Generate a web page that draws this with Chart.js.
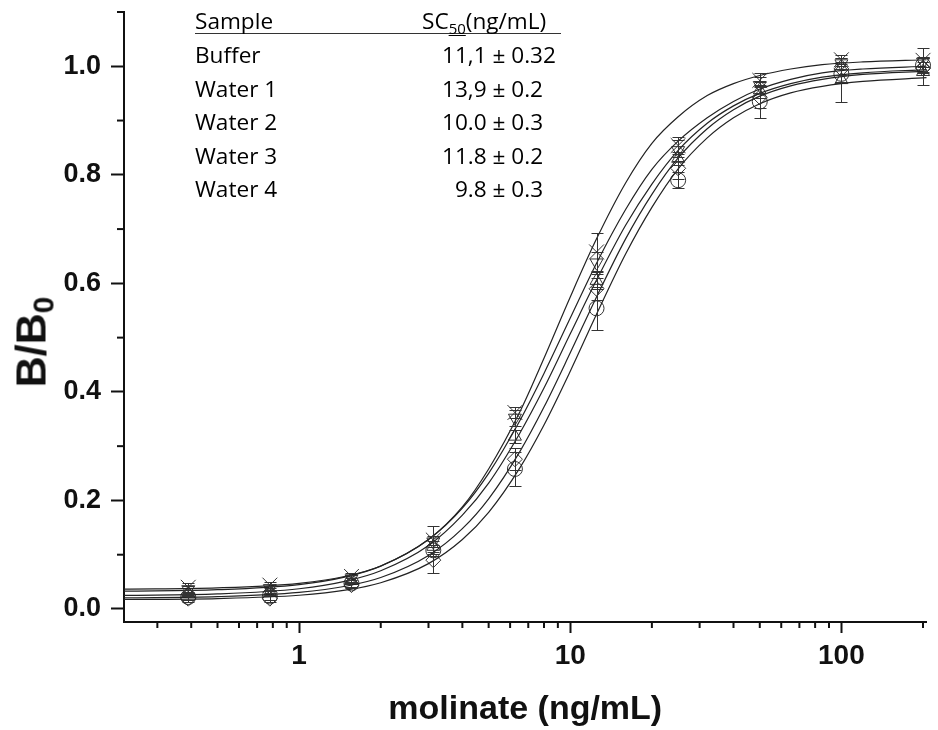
<!DOCTYPE html>
<html>
<head>
<meta charset="utf-8">
<title>molinate</title>
<script src="https://cdn.jsdelivr.net/npm/chart.js@4.4.1/dist/chart.umd.min.js"></script>
<style>
body { margin: 0; background: #fff; }
#wrap { position: relative; width: 938px; height: 730px; }
.t { position: absolute; font-family: "Open Sans", Lato, sans-serif; font-size: 22.6px; line-height: 22px; color: #000; white-space: nowrap; }
#hline { position: absolute; left: 195px; top: 33px; width: 366px; height: 1px; background: #333; }
#ytitle { position: absolute; left: 34px; top: 342px; font-family: "Liberation Sans", Arial, sans-serif; font-weight: bold; font-size: 43px; line-height: 1; color: #111; white-space: nowrap; transform: translate(-50%, -50%) rotate(-90deg); }
#ytitle sub { font-size: 30px; vertical-align: -8px; }
</style>
</head>
<body>
<div id="wrap">
  <canvas id="myChart" width="938" height="730"></canvas>
  <div id="ytitle">B/B<sub>0</sub></div>
  <div id="hline"></div>
</div>
<script>
// concentrations (ng/mL)
var xConc = [0.39, 0.78, 1.56, 3.125, 6.25, 12.5, 25, 50, 100, 200];

var bufferY  = [0.029, 0.030, 0.052, 0.115, 0.318, 0.605, 0.830, 0.956, 0.975, 0.990];
var bufferErr = [0.006, 0.005, 0.005, 0.010, 0.012, 0.015, 0.012, 0.015, 0.040, 0.025];
var water1Y  = [0.022, 0.023, 0.047, 0.108, 0.258, 0.554, 0.790, 0.935, 0.986, 1.002];
var water1Err = [0.006, 0.006, 0.006, 0.010, 0.032, 0.040, 0.015, 0.030, 0.015, 0.015];
var water2Y  = [0.036, 0.038, 0.056, 0.124, 0.352, 0.638, 0.845, 0.965, 1.005, 1.008];
var water2Err = [0.006, 0.005, 0.006, 0.010, 0.015, 0.020, 0.020, 0.015, 0.010, 0.010];
var water3Y  = [0.019, 0.019, 0.044, 0.090, 0.276, 0.590, 0.812, 0.943, 0.995, 0.996];
var water3Err = [0.007, 0.006, 0.006, 0.024, 0.020, 0.020, 0.020, 0.020, 0.012, 0.012];
var water4Y  = [0.040, 0.044, 0.060, 0.127, 0.362, 0.658, 0.854, 0.974, 1.012, 1.011];
var water4Err = [0.008, 0.006, 0.006, 0.026, 0.010, 0.035, 0.015, 0.013, 0.008, 0.022];

var fitX = [0.226, 0.5, 1, 1.5, 2, 3, 4, 5, 6.5, 8, 10, 12.5, 16, 20, 25, 32, 40, 50, 65, 85, 120, 206];
var fitBuffer = [0.0249, 0.0277, 0.0373, 0.0518, 0.0704, 0.117, 0.173, 0.232, 0.323, 0.407, 0.507, 0.606, 0.707, 0.783, 0.845, 0.895, 0.927, 0.950, 0.968, 0.980, 0.988, 0.994];
var fitWater1 = [0.0175, 0.0192, 0.0253, 0.0351, 0.0484, 0.0836, 0.128, 0.178, 0.259, 0.339, 0.438, 0.543, 0.654, 0.740, 0.811, 0.868, 0.905, 0.931, 0.951, 0.963, 0.972, 0.979];
var fitWater2 = [0.0328, 0.0355, 0.045, 0.0597, 0.0789, 0.128, 0.186, 0.250, 0.346, 0.434, 0.536, 0.637, 0.736, 0.810, 0.862, 0.905, 0.935, 0.958, 0.976, 0.988, 0.995, 1.000];
var fitWater3 = [0.0206, 0.0228, 0.0305, 0.0423, 0.0579, 0.0986, 0.148, 0.203, 0.289, 0.372, 0.472, 0.575, 0.682, 0.764, 0.831, 0.885, 0.920, 0.945, 0.964, 0.976, 0.985, 0.991];
var fitWater4 = [0.0366, 0.0388, 0.0472, 0.0607, 0.0791, 0.128, 0.188, 0.258, 0.362, 0.462, 0.575, 0.682, 0.785, 0.858, 0.907, 0.946, 0.968, 0.983, 0.995, 1.003, 1.008, 1.012];

// table text
var samples = ["Buffer", "Water 1", "Water 2", "Water 3", "Water 4"];
var sc50 = ["11,1 \u00b1 0.32", "13,9 \u00b1 0.2", "10.0 \u00b1 0.3", "11.8 \u00b1 0.2", "\u20079.8 \u00b1 0.3"];

// ticks
var xMajor = [1, 10, 100];
var xMinor = [0.3, 0.4, 0.5, 0.6, 0.7, 0.8, 0.9, 2, 3, 4, 5, 6, 7, 8, 9, 20, 30, 40, 50, 60, 70, 80, 90, 200];
var yMajor = [0, 0.2, 0.4, 0.6, 0.8, 1.0];
var yMinor = [0.1, 0.3, 0.5, 0.7, 0.9, 1.1];

var ink = '#111';
var markInk = '#333';

// build the SC50 table
var wrap = document.getElementById('wrap');
function addText(txt, left, baseline, html) {
    var d = document.createElement('div');
    d.className = 't';
    if (html) d.innerHTML = txt; else d.textContent = txt;
    d.style.left = left + 'px';
    d.style.top = (baseline - 19) + 'px';
    wrap.appendChild(d);
}
addText('Sample', 195, 29);
addText('SC<span style="font-size:15px;position:relative;top:5px;text-decoration:underline">50</span>(ng/mL)', 422, 29, true);
for (var i = 0; i < samples.length; i++) {
    addText(samples[i], 195, 63 + i * 33.6);
    addText(sc50[i], 442, 63 + i * 33.6);
}

function pts(ys) {
    return xConc.map(function (x, i) { return {x: x, y: ys[i]}; });
}
function fit(ys) {
    return fitX.map(function (x, i) { return {x: x, y: ys[i]}; });
}
function curve(label, ys) {
    return {
        label: label, data: fit(ys), showLine: true, pointRadius: 0,
        borderColor: '#222', borderWidth: 1.2, cubicInterpolationMode: 'monotone',
        fill: false, clip: false
    };
}
function marks(label, ys, style, r, rot) {
    return {
        label: label, data: pts(ys), showLine: false, pointStyle: style,
        pointRadius: r, pointRotation: rot || 0, pointBorderColor: markInk,
        pointBackgroundColor: 'rgba(0,0,0,0)', pointBorderWidth: 1, clip: false
    };
}

var errSets = [
    {vals: bufferY, err: bufferErr},
    {vals: water1Y, err: water1Err},
    {vals: water2Y, err: water2Err},
    {vals: water3Y, err: water3Err},
    {vals: water4Y, err: water4Err}
];

// error bars + minor ticks
var extras = {
    id: 'extras',
    afterDatasetsDraw: function (chart) {
        var ctx = chart.ctx, sx = chart.scales.x, sy = chart.scales.y;
        ctx.save();
        ctx.strokeStyle = markInk;
        ctx.lineWidth = 1;
        errSets.forEach(function (s) {
            for (var i = 0; i < xConc.length; i++) {
                var px = Math.round(sx.getPixelForValue(xConc[i])) + 0.5;
                var t = Math.round(sy.getPixelForValue(s.vals[i] + s.err[i])) + 0.5;
                var b = Math.round(sy.getPixelForValue(s.vals[i] - s.err[i])) + 0.5;
                ctx.beginPath();
                ctx.moveTo(px, t); ctx.lineTo(px, b);
                ctx.moveTo(px - 6, t); ctx.lineTo(px + 6, t);
                ctx.moveTo(px - 6, b); ctx.lineTo(px + 6, b);
                ctx.stroke();
            }
        });
        ctx.strokeStyle = ink;
        ctx.lineWidth = 2;
        var area = chart.chartArea;
        xMinor.forEach(function (v) {
            var px = sx.getPixelForValue(v);
            ctx.beginPath(); ctx.moveTo(px, area.bottom); ctx.lineTo(px, area.bottom + 6); ctx.stroke();
        });
        yMinor.forEach(function (v) {
            var py = sy.getPixelForValue(v);
            ctx.beginPath(); ctx.moveTo(area.left, py); ctx.lineTo(area.left - 7, py); ctx.stroke();
        });
        ctx.restore();
    }
};

var ctx = document.getElementById('myChart').getContext('2d');
var myChart = new Chart(ctx, {
    type: 'scatter',
    data: {
        datasets: [
            curve('Buffer fit', fitBuffer),
            curve('Water 1 fit', fitWater1),
            curve('Water 2 fit', fitWater2),
            curve('Water 3 fit', fitWater3),
            curve('Water 4 fit', fitWater4),
            marks('Buffer', bufferY, 'triangle', 7.5),
            marks('Water 1', water1Y, 'circle', 7.5),
            marks('Water 2', water2Y, 'triangle', 7.5, 180),
            marks('Water 3', water3Y, 'rectRot', 7.5),
            marks('Water 4', water4Y, 'crossRot', 10.5)
        ]
    },
    options: {
        responsive: false,
        animation: false,
        layout: {padding: {top: 12, right: 0, left: 0, bottom: 0}},
        plugins: {legend: {display: false}, tooltip: {enabled: false}},
        scales: {
            x: {
                type: 'logarithmic',
                min: 0.226, max: 206,
                afterFit: function (s) { s.height = 108; s.paddingLeft = 0; s.paddingRight = 0; },
                afterBuildTicks: function (s) { s.ticks = xMajor.map(function (v) { return {value: v}; }); },
                grid: {drawOnChartArea: false, tickLength: 11, tickWidth: 2, tickColor: ink},
                border: {color: ink, width: 2},
                ticks: {
                    color: ink, padding: 6,
                    font: {family: '"Liberation Sans", Arial, sans-serif', weight: 'bold', size: 28},
                    callback: function (v) { return String(v); }
                },
                title: {
                    display: true, text: 'molinate (ng/mL)', color: ink,
                    font: {family: '"Liberation Sans", Arial, sans-serif', weight: 'bold', size: 34},
                    padding: {top: 0, bottom: 0}
                }
            },
            y: {
                min: -0.024, max: 1.1,
                afterFit: function (s) { s.width = 124; s.paddingTop = 0; s.paddingBottom = 0; },
                afterBuildTicks: function (s) { s.ticks = yMajor.map(function (v) { return {value: v}; }); },
                grid: {drawOnChartArea: false, tickLength: 13, tickWidth: 2, tickColor: ink},
                border: {color: ink, width: 2},
                ticks: {
                    color: ink, padding: 10,
                    font: {family: '"Liberation Sans", Arial, sans-serif', weight: 'bold', size: 27},
                    callback: function (v) { return v.toFixed(1); }
                }
            }
        }
    },
    plugins: [extras]
});
</script>
</body>
</html>
